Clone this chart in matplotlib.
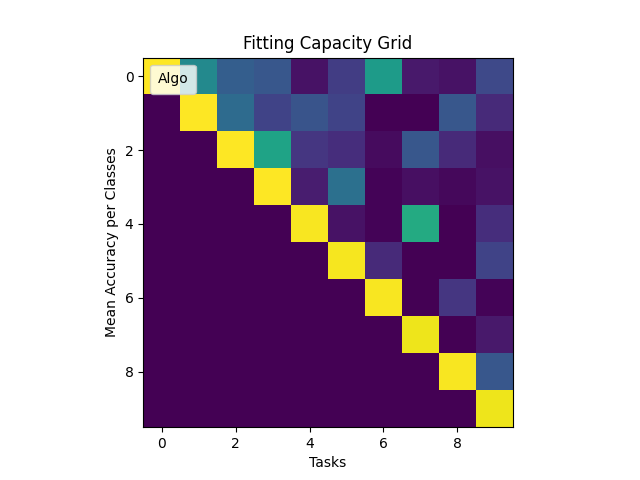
import numpy as np
import matplotlib
matplotlib.use("Agg")
import matplotlib.pyplot as plt

rows = [
    [1.00, 0.47, 0.30, 0.27, 0.05, 0.18, 0.55, 0.07, 0.05, 0.22],
    [0.00, 1.00, 0.35, 0.20, 0.26, 0.20, 0.00, 0.00, 0.27, 0.12],
    [0.00, 0.00, 1.00, 0.58, 0.16, 0.13, 0.03, 0.27, 0.12, 0.04],
    [0.00, 0.00, 0.00, 1.00, 0.08, 0.37, 0.01, 0.04, 0.02, 0.05],
    [0.00, 0.00, 0.00, 0.00, 0.99, 0.05, 0.01, 0.61, 0.00, 0.13],
    [0.00, 0.00, 0.00, 0.00, 0.00, 0.985, 0.12, 0.00, 0.00, 0.20],
    [0.00, 0.00, 0.00, 0.00, 0.00, 0.00, 0.99, 0.00, 0.16, 0.01],
    [0.00, 0.00, 0.00, 0.00, 0.00, 0.00, 0.00, 0.975, 0.00, 0.07],
    [0.00, 0.00, 0.00, 0.00, 0.00, 0.00, 0.00, 0.00, 0.99, 0.27],
    [0.00, 0.00, 0.00, 0.00, 0.00, 0.00, 0.00, 0.00, 0.00, 0.975],
]
legend_label = "Algo"

grid = np.array(rows)
fig, ax = plt.subplots(figsize=(6.4, 4.8), dpi=100)
ax.imshow(grid, cmap="viridis", vmin=0, vmax=1)
ax.plot([], [], linestyle="none", label=legend_label)
ax.legend(loc="upper left", handlelength=0, handletextpad=0, borderpad=0.55)
ax.set_title("Fitting Capacity Grid")
ax.set_xlabel("Tasks")
ax.set_ylabel("Mean Accuracy per Classes")
fig.savefig("out.png", dpi=100)
